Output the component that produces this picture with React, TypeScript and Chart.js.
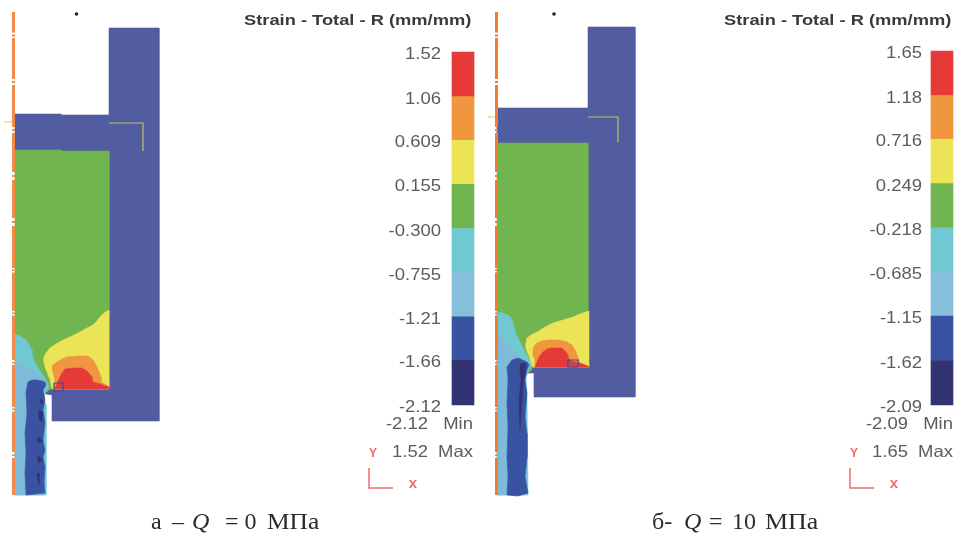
import React, { useEffect, useRef } from "react";
import { Chart, registerables } from "chart.js";

Chart.register(...registerables);

type P = [number, number];

const WIDTH = 956;
const HEIGHT = 538;

// Colour-bar levels read from the two legends
const leftLevels = [1.52, 1.06, 0.609, 0.155, -0.3, -0.755, -1.21, -1.66, -2.12];
const rightLevels = [1.65, 1.18, 0.716, 0.249, -0.218, -0.685, -1.15, -1.62, -2.09];
const bandColours = ["#e53a38", "#ef963f", "#ebe456", "#70b54f", "#70c8d2", "#85bfdc", "#3a52a2", "#333273"];

const WALL = "#515da0";
const GREEN = "#70b54f";
const YELLOW = "#ebe456";
const ORANGE = "#ef963f";
const RED = "#e53a38";
const CYAN = "#70c8d2";
const LIGHT = "#7fbbd9";
const BLUE = "#3a52a2";
const NAVY = "#333273";

// Left model outlines (image coordinates of the contour plot)
const leftTool: P[] = [[109, 28], [159, 28], [159, 421], [52, 421], [52, 395], [46, 394], [45, 393], [52, 388], [109, 388], [109, 151], [61, 151], [61, 150], [15, 150], [15, 114], [61, 114], [61, 115], [109, 115]];
const leftGreen: P[] = [[15, 150], [61, 150], [61, 151], [109, 151], [109, 389], [50, 389], [47, 392], [15, 392]];
const leftCyan: P[] = [[15, 334], [17, 335], [20, 336], [23, 338], [26, 340], [29, 344], [31, 348], [32, 353], [33, 358], [36, 364], [38, 368], [43, 375], [47, 382], [49, 387], [45, 393], [44, 400], [46, 405], [46, 495], [15, 495]];
const leftLight: P[] = [[15, 360], [20, 363], [27, 368], [40, 375], [45, 383], [43, 393], [43, 495], [15, 495]];
const leftBlob: P[] = [[28, 382], [32, 380], [37, 380], [42, 381], [45, 382], [46, 385], [43, 390], [45, 400], [43, 410], [45, 423], [43, 440], [45, 450], [43, 457], [45, 467], [44, 483], [45, 493], [26, 495], [25, 473], [26, 453], [25, 433], [27, 413], [26, 393], [27, 387]];
const leftSpots: P[][] = [
  [[40, 399], [43, 401], [41, 404]],
  [[39, 410], [43, 412], [42, 422], [39, 419]],
  [[38, 437], [43, 441], [38, 443]],
  [[38, 456], [43, 460], [38, 463]],
  [[37, 474], [39, 473], [39, 484]],
];
const leftYellow: P[] = [[109, 310], [104, 313], [100, 317], [97, 321], [93, 325], [87, 328], [80, 332], [72, 336], [63, 340], [56, 344], [50, 348], [46, 353], [44, 357], [44, 362], [45, 367], [47, 372], [48, 375], [50, 379], [51, 384], [52, 389], [109, 389]];
const leftOrange: P[] = [[52, 368], [53, 365], [57, 362], [62, 359], [67, 357], [78, 356], [88, 356], [93, 360], [96, 365], [99, 372], [101, 377], [101, 382], [105, 384], [109, 387], [109, 389], [53, 389], [55, 380]];
const leftRed: P[] = [[55, 388], [57, 384], [59, 379], [62, 373], [65, 369], [73, 368], [82, 368], [87, 371], [92, 377], [93, 382], [100, 384], [109, 387], [109, 389], [55, 389]];
const leftSquare: P[] = [[54, 383], [63, 383], [63, 391], [54, 391], [54, 383]];
const leftMark: P[] = [[109, 123], [143, 123], [143, 151]];
const leftTick: P[] = [[4, 122], [13, 122]];

// Right model outlines
const rightTool: P[] = [[588, 27], [635, 27], [635, 397], [534, 397], [534, 373], [528, 373], [528, 371], [534, 367], [588, 367], [588, 143], [497, 143], [497, 108], [588, 108]];
const rightGreen: P[] = [[497, 143], [588, 143], [588, 367], [533, 367], [530, 372], [497, 372]];
const rightCyan: P[] = [[497, 312], [503, 313], [508, 315], [511, 318], [513, 322], [515, 332], [520, 342], [525, 352], [530, 360], [531, 365], [528, 372], [526, 378], [527, 400], [528, 495], [497, 495]];
const rightLight: P[] = [[497, 335], [507, 343], [515, 352], [520, 362], [524, 375], [524, 495], [497, 495]];
const rightBlob: P[] = [[512, 360], [518, 358], [527, 362], [529, 365], [527, 370], [525, 380], [527, 393], [525, 417], [527, 433], [527, 457], [525, 477], [528, 493], [518, 496], [507, 495], [508, 477], [507, 457], [508, 427], [507, 403], [508, 380], [507, 367]];
const rightSpots: P[][] = [
  [[520, 364], [526, 363], [525, 372], [523, 385], [522, 400], [520, 430], [519, 400], [521, 380], [520, 372]],
];
const rightYellow: P[] = [[589, 311], [580, 314], [573, 317], [563, 320], [553, 323], [545, 327], [537, 332], [531, 335], [527, 338], [526, 343], [526, 348], [528, 354], [530, 358], [531, 363], [532, 366], [533, 367], [589, 367]];
const rightOrange: P[] = [[533, 350], [534, 346], [537, 343], [542, 341], [547, 340], [560, 340], [567, 342], [572, 345], [575, 350], [577, 355], [579, 360], [580, 366], [580, 367], [535, 367], [535, 360], [533, 355]];
const rightRed: P[] = [[535, 367], [537, 362], [539, 357], [543, 352], [547, 349], [552, 348], [562, 348], [566, 352], [568, 355], [569, 360], [575, 362], [580, 363], [588, 366], [588, 367]];
const rightSquare: P[] = [[568, 360], [578, 360], [578, 367], [568, 367], [568, 360]];
const rightMark: P[] = [[588, 117], [618, 117], [618, 142]];
const rightTick: P[] = [[488, 117], [496, 117]];

// Runs of the broken symmetry axis, with the short dashes inside each break
const axisRuns: P[] = [[12, 32.5], [34.5, 36.5], [38, 79], [81, 83], [85, 127], [129, 131], [133, 172], [175, 177], [180, 218], [221, 223], [226, 268], [269.5, 271], [272.5, 311], [312.5, 314], [315.5, 360], [362, 363.5], [365, 407], [408.5, 410], [411.5, 452], [454.5, 456], [458, 495]];

const corners: { x: number; y: number }[] = [{ x: 369, y: 468 }, { x: 369, y: 488 }, { x: 393, y: 488 }];
const cornersRight: { x: number; y: number }[] = [{ x: 850, y: 468 }, { x: 850, y: 488 }, { x: 874, y: 488 }];

const axisLine = (x: number) => {
  const out: { x: number; y: number }[] = [];
  axisRuns.forEach(([a, b]) => {
    out.push({ x, y: a }, { x, y: b }, { x, y: NaN });
  });
  return out;
};

const pts = (p: P[]) => p.map(([x, y]) => ({ x, y }));
const shape = (p: P[], color: string) => ({
  type: "line" as const,
  data: pts([...p, p[0]]),
  backgroundColor: color,
  borderColor: color,
  borderWidth: 0.6,
  fill: "shape",
  pointRadius: 0,
  tension: 0,
  xAxisID: "x",
  yAxisID: "y",
});
const stroke = (p: { x: number; y: number }[], color: string, width: number) => ({
  type: "line" as const,
  data: p,
  borderColor: color,
  borderWidth: width,
  fill: false,
  pointRadius: 0,
  tension: 0,
  spanGaps: false,
  xAxisID: "x",
  yAxisID: "y",
});
const bars = (levels: number[], x: number, axis: string) => ({
  type: "bar" as const,
  data: levels.slice(0, -1).map((v, i) => ({ x, y: [levels[i + 1], v] })),
  backgroundColor: bandColours,
  borderWidth: 0,
  barThickness: 22,
  grouped: false,
  xAxisID: "x",
  yAxisID: axis,
});
const dot = (x: number, y: number) => ({
  type: "line" as const,
  data: [{ x, y }],
  pointRadius: 1.8,
  pointBackgroundColor: "#222222",
  pointBorderWidth: 0,
  showLine: false,
  xAxisID: "x",
  yAxisID: "y",
});

// Linear range that puts hi at pixel top and lo at pixel bottom on the full canvas height
const range = (hi: number, lo: number, top: number, bottom: number) => {
  const per = (hi - lo) / (bottom - top);
  return { max: hi + top * per, min: lo - (HEIGHT - bottom) * per };
};

const hidden = { display: false, offset: false, grid: { display: false } };

const SANS = '"Liberation Sans", Arial, sans-serif';
const SERIF = '"Liberation Serif", serif';

const textPlugin = {
  id: "labels",
  afterDraw(chart: any) {
    const { ctx } = chart;
    const scales = chart.scales;
    const put = (t: string, x: number, y: number, font: string, color: string, align: CanvasTextAlign = "left", sx = 1) => {
      ctx.save();
      ctx.font = font;
      ctx.fillStyle = color;
      ctx.textAlign = align;
      ctx.textBaseline = "middle";
      ctx.translate(x, y + 1.5);
      ctx.scale(sx, 1);
      ctx.fillText(t, 0, 0);
      ctx.restore();
    };
    const grey = "#5c5c5c";
    const lab = `16.5px ${SANS}`;
    const S = 1.12;
    const fmt = (v: number) => (Math.abs(v) < 1 ? v.toFixed(3) : v.toFixed(2));
    leftLevels.forEach((v) => put(fmt(v), 441, scales.yL.getPixelForValue(v) + 1, lab, grey, "right", S));
    rightLevels.forEach((v) => put(fmt(v), 922, scales.yR.getPixelForValue(v) + 1, lab, grey, "right", S));
    const title = `bold 15.5px ${SANS}`;
    put("Strain - Total - R (mm/mm)", 244, 19.5, title, "#3a3a3a", "left", 1.18);
    put("Strain - Total - R (mm/mm)", 724, 19.5, title, "#3a3a3a", "left", 1.18);
    put("-2.12", 428, 422.5, lab, grey, "right", S);
    put("Min", 473, 422.5, lab, grey, "right", S);
    put("1.52", 428, 450.5, lab, grey, "right", S);
    put("Max", 473, 450.5, lab, grey, "right", S);
    put("-2.09", 908, 422.5, lab, grey, "right", S);
    put("Min", 953, 422.5, lab, grey, "right", S);
    put("1.65", 908, 450.5, lab, grey, "right", S);
    put("Max", 953, 450.5, lab, grey, "right", S);
    const pink = "#ef6a6e";
    put("Y", 373, 452, `bold 12px ${SANS}`, pink, "center");
    put("x", 413, 482, `bold 15px ${SANS}`, pink, "center");
    put("Y", 854, 452, `bold 12px ${SANS}`, pink, "center");
    put("x", 894, 482, `bold 15px ${SANS}`, pink, "center");
    const cap = `24px ${SERIF}`;
    const capI = `italic 24px ${SERIF}`;
    const ink = "#2b2b2b";
    put("а", 151, 521, cap, ink);
    put("–", 172, 521, cap, ink);
    put("Q", 192, 521, capI, ink);
    put("= 0", 225, 521, cap, ink);
    put("МПа", 267, 521, cap, ink, "left", 1.06);
    put("б-", 652, 521, cap, ink);
    put("Q", 684, 521, capI, ink);
    put("=", 709, 521, cap, ink);
    put("10", 732, 521, cap, ink);
    put("МПа", 765, 521, cap, ink, "left", 1.08);
  },
};

export default function App() {
  const ref = useRef<HTMLCanvasElement>(null);
  useEffect(() => {
    document.body.style.margin = "0";
    document.body.style.background = "#ffffff";
    const list: any[] = [
      bars(leftLevels, 463, "yL"),
      bars(rightLevels, 942, "yR"),
      shape(leftTool, WALL),
      shape(leftGreen, GREEN),
      shape(leftCyan, CYAN),
      shape(leftLight, LIGHT),
      shape(leftBlob, BLUE),
      ...leftSpots.map((s) => shape(s, NAVY)),
      shape(leftYellow, YELLOW),
      shape(leftOrange, ORANGE),
      shape(leftRed, RED),
      stroke(pts(leftSquare), "#3d4a9c", 1.2),
      stroke(pts(leftMark), "#c9c05a", 1.2),
      stroke(pts(leftTick), "#eadc86", 1.5),
      stroke(axisLine(13.5), "#f08c45", 3),
      dot(76.5, 14),
      shape(rightTool, WALL),
      shape(rightGreen, GREEN),
      shape(rightCyan, CYAN),
      shape(rightLight, LIGHT),
      shape(rightBlob, BLUE),
      ...rightSpots.map((s) => shape(s, NAVY)),
      shape(rightYellow, YELLOW),
      shape(rightOrange, ORANGE),
      shape(rightRed, RED),
      stroke(pts(rightSquare), "#3d4a9c", 1.2),
      stroke(pts(rightMark), "#c9c05a", 1.2),
      stroke(pts(rightTick), "#eadc86", 1.5),
      stroke(axisLine(496.5), "#f47a30", 3),
      dot(554, 14),
      stroke(corners, "#ef6a6e", 1.5),
      stroke(cornersRight, "#ef6a6e", 1.5),
    ];
    list.forEach((d, i) => {
      d.order = list.length - i;
    });
    const chart = new Chart(ref.current as HTMLCanvasElement, {
      type: "scatter",
      data: { datasets: list },
      plugins: [textPlugin],
      options: {
        animation: false,
        responsive: false,
        devicePixelRatio: 1,
        layout: { padding: 0, autoPadding: false },
        plugins: { legend: { display: false }, tooltip: { enabled: false } },
        scales: {
          x: { ...hidden, type: "linear", min: 0, max: WIDTH },
          y: { ...hidden, type: "linear", min: 0, max: HEIGHT, reverse: true },
          yL: { ...hidden, type: "linear", ...range(1.52, -2.12, 52, 405) },
          yR: { ...hidden, type: "linear", ...range(1.65, -2.09, 51, 405) },
        },
      },
    } as any);
    return () => chart.destroy();
  }, []);
  return <canvas ref={ref} width={WIDTH} height={HEIGHT} style={{ display: "block" }} />;
}
